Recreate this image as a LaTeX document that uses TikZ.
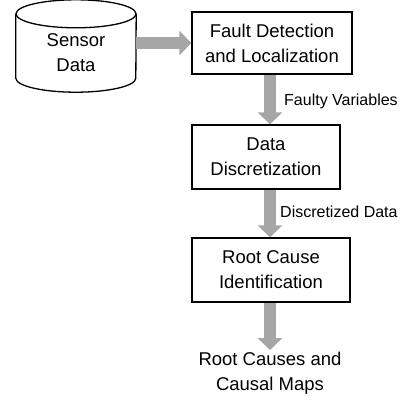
\documentclass[tikz,border=0pt]{standalone}
\usepackage{fontspec}
\setmainfont{Liberation Sans}
\usetikzlibrary{arrows.meta}
\definecolor{arrowgray}{RGB}{166,166,166}
\begin{document}
\begin{tikzpicture}[x=1pt,y=-1pt,
  box/.style={draw, line width=1.3pt, align=center, inner sep=0pt, font=\fontsize{18.5}{25}\selectfont},
  txt/.style={align=center, inner sep=0pt, font=\fontsize{18.5}{25}\selectfont},
  fat/.style={draw=arrowgray, line width=12pt, -{Triangle[length=12pt,width=24pt]}, shorten <=0pt},
  lbl/.style={font=\fontsize{16}{20}\selectfont, anchor=west, inner sep=0pt},
  cyl/.style={line width=1.3pt}
 ]
\clip (0,0) rectangle (402,402);
% cylinder
\node[minimum width=120pt, minimum height=64pt, inner sep=0pt] (sensor) at (76,46) {};
\draw[cyl] (sensor.north) ellipse [x radius=60, y radius=14];
\draw[cyl] (sensor.north west) -- (sensor.south west)
  arc[start angle=180, end angle=0, x radius=60, y radius=14] -- (sensor.north east);
\node[txt] (sensortext) at (76,53) {Sensor\\Data};
% boxes
\node[box, minimum width=160pt, minimum height=62pt] (b1) at (272,43) {Fault Detection\\and Localization};
\node[box, minimum width=148pt, minimum height=64pt] (b2) at (266,157) {Data\\Discretization};
\node[box, minimum width=158pt, minimum height=64pt] (b3) at (271,270) {Root Cause\\Identification};
\node[txt] (out) at (270,373) {Root Causes and\\Causal Maps};
% arrows
\draw[fat] (sensor.east |- b1.west) -- (b1.west);
\coordinate (a1s) at (270,74.7);
\coordinate (a1e) at (270,124.3);
\draw[fat] (b1.south -| a1s) -- (b2.north -| a1s);
\draw[fat] (b2.south -| a1s) -- (b3.north -| a1s);
\coordinate (outtip) at (270,350);
\draw[fat] (b3.south -| a1s) -- (outtip);
% labels
\node[lbl] (l1) at (284,101) {Faulty Variables};
\node[lbl] (l2) at (280,212) {Discretized Data};
\end{tikzpicture}
\end{document}
